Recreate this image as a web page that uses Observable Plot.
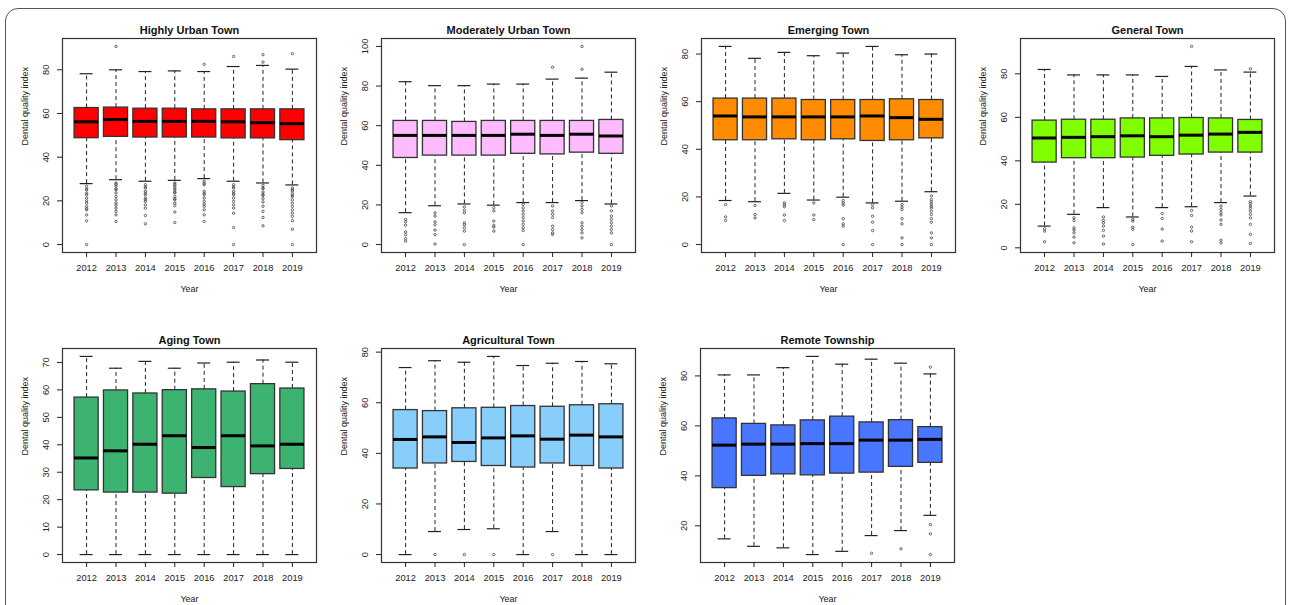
<!DOCTYPE html>
<html><head><meta charset="utf-8">
<script src="https://cdn.jsdelivr.net/npm/d3@7"></script>
<script src="https://cdn.jsdelivr.net/npm/@observablehq/plot@0.6"></script>
<style>
body{margin:0;background:#fff;}
#wrap{position:relative;width:1290px;height:605px;overflow:hidden;background:#fff;font-family:"Liberation Sans",Arial,sans-serif;}
#border{position:absolute;left:5px;top:8px;width:1281px;height:700px;border:1.6px solid #555;border-radius:13px;box-sizing:border-box;}
.panel{position:absolute;}
</style></head><body>
<div id="wrap"><div id="border"></div></div>
<script>
// ---------- DATA ----------
const years = [2012, 2013, 2014, 2015, 2016, 2017, 2018, 2019];
const panelTitles = ["Highly Urban Town", "Moderately Urban Town", "Emerging Town", "General Town",
                     "Aging Town", "Agricultural Town", "Remote Township"];
const panelColors = ["#FF0000", "#FFBBFF", "#FF8C00", "#7FFF00", "#3CB371", "#87CEFA", "#4876FF"];
const yAxisLabel = "Dental quality index";
const xAxisLabel = "Year";

// y tick labels per panel
const highlyUrbanTicks = [0, 20, 40, 60, 80];
const moderatelyUrbanTicks = [0, 20, 40, 60, 80, 100];
const emergingTicks = [0, 20, 40, 60, 80];
const generalTicks = [0, 20, 40, 60, 80];
const agingTicks = [0, 10, 20, 30, 40, 50, 60, 70];
const agriculturalTicks = [0, 20, 40, 60, 80];
const remoteTicks = [20, 40, 60, 80];

// per year: [lower whisker, Q1, median, Q3, upper whisker]
const highlyUrbanStats = [
  [27.9, 48.7, 56.2, 62.5, 78.2], [29.7, 49.3, 57.2, 62.7, 80.0], [29.0, 49.0, 56.4, 62.2, 79.2], [29.4, 49.0, 56.4, 62.2, 79.5],
  [30.2, 49.0, 56.4, 61.9, 79.2], [29.0, 48.6, 56.2, 61.9, 81.5], [28.2, 48.6, 55.8, 61.9, 82.0], [27.3, 47.8, 55.3, 61.9, 80.3]];
const moderatelyUrbanStats = [
  [16.1, 43.7, 55.1, 62.4, 82.2], [19.6, 44.9, 55.1, 62.4, 80.2], [20.5, 44.9, 55.1, 61.9, 80.2], [19.9, 44.9, 55.1, 62.4, 81.0],
  [21.2, 45.8, 55.7, 62.4, 81.0], [21.2, 45.5, 55.1, 62.4, 83.5], [22.2, 46.4, 55.7, 62.4, 84.0], [20.5, 45.8, 54.8, 62.9, 87.0]];
const emergingStats = [
  [18.5, 43.8, 54.0, 61.3, 83.2], [18.0, 43.8, 53.6, 61.3, 78.2], [21.5, 44.2, 53.6, 61.3, 80.7], [18.7, 43.8, 53.6, 60.7, 79.3],
  [19.9, 44.2, 53.6, 60.7, 80.4], [17.5, 43.5, 54.0, 60.7, 83.2], [18.2, 43.8, 53.3, 61.0, 79.7], [22.2, 44.6, 52.6, 60.7, 80.0]];
const generalStats = [
  [10.0, 39.2, 50.5, 58.5, 82.0], [15.4, 41.2, 50.8, 58.9, 79.5], [18.5, 41.2, 51.1, 58.9, 79.5], [14.2, 41.5, 51.5, 59.5, 79.5],
  [18.5, 42.3, 51.1, 59.5, 78.8], [18.9, 42.9, 51.8, 59.7, 83.4], [20.8, 43.8, 52.3, 59.5, 81.8], [23.8, 43.8, 53.1, 58.8, 80.8]];
const agingStats = [
  [0, 23.4, 35.2, 57.2, 72.2], [0, 22.6, 37.8, 59.8, 67.9], [0, 22.6, 40.2, 58.7, 70.4], [0, 22.2, 43.3, 59.9, 67.9],
  [0, 27.9, 39.0, 60.2, 69.8], [0, 24.6, 43.3, 59.4, 70.1], [0, 29.3, 39.6, 62.1, 70.9], [0, 31.2, 40.2, 60.5, 70.1]];
const agriculturalStats = [
  [0, 34.0, 45.5, 57.1, 73.9], [9.1, 36.0, 46.5, 56.7, 76.6], [9.9, 36.6, 44.3, 57.8, 76.0], [10.2, 35.0, 46.1, 58.0, 78.3],
  [0, 34.4, 46.9, 58.7, 74.7], [9.1, 36.0, 45.6, 58.4, 75.6], [0, 35.0, 47.2, 59.0, 76.3], [0, 34.0, 46.5, 59.4, 75.4]];
const remoteStats = [
  [14.8, 35.1, 52.3, 63.0, 80.4], [11.8, 40.0, 52.7, 60.8, 80.4], [11.2, 40.6, 52.7, 60.2, 83.3], [8.5, 40.2, 52.9, 62.2, 87.8],
  [9.8, 40.9, 52.9, 63.7, 84.7], [16.1, 41.3, 54.3, 61.4, 86.7], [18.1, 43.6, 54.3, 62.3, 85.1], [24.2, 45.2, 54.6, 59.5, 80.8]];

// outliers per year
const highlyUrbanOutliers = [
  [26.7, 25.5, 25, 23.5, 22.8, 21.3, 20, 19, 17.5, 16.5, 15.9, 13.6, 10.9, 0],
  [90.7, 28.2, 27.5, 26.7, 25.5, 25, 23.6, 22, 20.5, 19, 18, 16.7, 15.2, 13.6, 10.6],
  [27.4, 26.5, 25.9, 24.4, 23.5, 22.8, 21.3, 20.5, 19.8, 18.2, 16.7, 13.3, 9.5],
  [28.2, 27.5, 26.7, 25.8, 25, 24, 23.6, 22, 21, 20.5, 19, 17.8, 14.9, 10.1],
  [82.5, 29, 28, 27.4, 24.4, 23.5, 22.8, 21.3, 19.8, 18.5, 17.5, 15.9, 13.6, 10.6],
  [86.1, 27.4, 26.5, 25.9, 24.4, 23.5, 22.8, 21.3, 19.8, 18.2, 16.7, 14.4, 7.8, 0],
  [86.9, 83.5, 27.1, 26, 25.6, 24.1, 23, 22.5, 21, 19.5, 17.5, 15.2, 12.4, 8.6],
  [87.4, 25.9, 25, 24.7, 23.4, 22.5, 22, 20.5, 19, 17.5, 15.9, 14.4, 12.9, 10.9, 7, 0]];
const moderatelyUrbanOutliers = [
  [12.7, 11.5, 9.8, 6.4, 5, 3, 1.7],
  [16, 14.4, 11.5, 10, 7.3, 5, 0.3],
  [19, 17.3, 16, 11, 10, 8.5, 6.8, 0],
  [18.6, 17, 11.9, 9.7, 8.8, 6.8],
  [20.3, 18.6, 17, 15.3, 13.6, 11.9, 10.2, 8.5, 7.1, 0],
  [89.5, 19.5, 17, 15.3, 13.6, 9.3, 7.6, 5.9, 5.1],
  [100, 88.5, 21.2, 19.5, 17.8, 16.1, 11, 9.3, 7.6, 5.9, 3.4],
  [19.5, 17, 14.4, 12.7, 11, 9.3, 7.6, 5.9, 0]];
const emergingOutliers = [
  [16.8, 11.6, 10.1],
  [16.4, 12.6, 11.2],
  [17.5, 16.7, 15.9, 12.4, 10.1],
  [17.5, 12.4, 10.5],
  [18.5, 17.5, 16.6, 10.9, 8.7, 7.7, 0],
  [16.8, 15.4, 11.9, 9.4, 5.9, 0],
  [16.8, 15.7, 14.7, 10.9, 8.7, 2.8, 0],
  [20.4, 18.9, 18, 17.1, 16.1, 15.4, 14, 12.6, 10.9, 9.4, 4.9, 2.8, 0]];
const generalOutliers = [
  [8.8, 7.7, 2.8],
  [13.8, 12.6, 9.2, 8.2, 6.9, 4.9, 2.3],
  [14.2, 12.6, 11.5, 10, 8, 5.4, 1.8],
  [13.1, 12.3, 9.5, 8.5, 1.5],
  [15.8, 13.5, 8.6, 3.1],
  [92.6, 17.2, 14.9, 9.5, 7.7, 2.8],
  [19.2, 17.7, 16.2, 15.1, 12.8, 10.8, 3.5, 2.3],
  [82.3, 21.2, 20.3, 19.2, 18.2, 16.9, 15.4, 13.8, 10.8, 6.2, 2]];
const agingOutliers = [[], [], [], [], [], [], [], []];
const agriculturalOutliers = [[], [0], [0], [0], [], [0], [], []];
const remoteOutliers = [[], [], [], [], [], [9], [10.8], [83.5, 20.5, 16.8, 8.5]];

const panelStats = [highlyUrbanStats, moderatelyUrbanStats, emergingStats, generalStats, agingStats, agriculturalStats, remoteStats];
const panelOutliers = [highlyUrbanOutliers, moderatelyUrbanOutliers, emergingOutliers, generalOutliers, agingOutliers, agriculturalOutliers, remoteOutliers];
const panelTicks = [highlyUrbanTicks, moderatelyUrbanTicks, emergingTicks, generalTicks, agingTicks, agriculturalTicks, remoteTicks];

// ---------- LAYOUT ----------
const panelLeft = [0, 319, 639, 958, 0, 319, 638];
const panelTop = [0, 0, 0, 0, 310, 310, 310];
const W = 320, H = 300;
const boxHalf = 0.41, capHalf = 0.22;
const ink = "#222";

const wrap = document.getElementById("wrap");

panelTitles.forEach((title, p) => {
  const rows = years.map((yr, i) => {
    const [low, q1, med, q3, high] = panelStats[p][i];
    return {year: yr, low, q1, med, q3, high};
  });
  const outs = years.flatMap((yr, i) => panelOutliers[p][i].map(v => ({year: yr, value: v})));
  const allVals = rows.flatMap(r => [r.low, r.high]).concat(outs.map(o => o.value));
  const [lo, hi] = d3.extent(allVals);
  const pad = (hi - lo) * 0.04;

  const chart = Plot.plot({
    width: W, height: H,
    marginLeft: 62, marginRight: 4, marginTop: 38, marginBottom: 48,
    style: {fontFamily: '"Liberation Sans", Arial, sans-serif', fontSize: "9.3px", color: ink, background: "transparent", overflow: "visible"},
    x: {type: "linear", domain: [years[0] - 0.82, years[years.length - 1] + 0.82], axis: null},
    y: {type: "linear", domain: [lo - pad, hi + pad], axis: null},
    marks: [
      // whiskers
      Plot.ruleX(rows, {x: "year", y1: "q3", y2: "high", stroke: ink, strokeWidth: 1, strokeDasharray: "4,3"}),
      Plot.ruleX(rows, {x: "year", y1: "low", y2: "q1", stroke: ink, strokeWidth: 1, strokeDasharray: "4,3"}),
      // caps
      Plot.ruleY(rows, {y: "high", x1: d => d.year - capHalf, x2: d => d.year + capHalf, stroke: ink, strokeWidth: 1.2}),
      Plot.ruleY(rows, {y: "low", x1: d => d.year - capHalf, x2: d => d.year + capHalf, stroke: ink, strokeWidth: 1.2}),
      // boxes
      Plot.rect(rows, {x1: d => d.year - boxHalf, x2: d => d.year + boxHalf, y1: "q1", y2: "q3",
                       fill: panelColors[p], stroke: "#333", strokeWidth: 1.3}),
      // medians
      Plot.ruleY(rows, {y: "med", x1: d => d.year - boxHalf, x2: d => d.year + boxHalf, stroke: "#000", strokeWidth: 3}),
      // outliers
      Plot.dot(outs, {x: "year", y: "value", r: 1.2, stroke: "#444", strokeWidth: 0.8, fill: "none"}),
      Plot.frame({stroke: "#333", strokeWidth: 1.2}),
      Plot.axisX({ticks: years, tickFormat: d => String(d), tickSize: 5, tickPadding: 7, label: null, stroke: ink, fill: ink}),
      Plot.axisY({ticks: panelTicks[p], tickRotate: -90, tickSize: 5, tickPadding: 9, label: null, stroke: ink, fill: ink}),
      Plot.text([title], {text: d => d, frameAnchor: "top", dy: -12, fontWeight: "bold", fontSize: 11, fill: "#111"}),
      Plot.text([xAxisLabel], {text: d => d, frameAnchor: "bottom", dy: 39, fontSize: 9, fill: ink}),
      Plot.text([yAxisLabel], {text: d => d, frameAnchor: "left", dx: -37, rotate: -90, fontSize: 9, fill: ink})
    ]
  });
  const holder = document.createElement("div");
  holder.className = "panel";
  holder.style.left = panelLeft[p] + "px";
  holder.style.top = panelTop[p] + "px";
  holder.appendChild(chart);
  wrap.appendChild(holder);
});
</script>
</body></html>
